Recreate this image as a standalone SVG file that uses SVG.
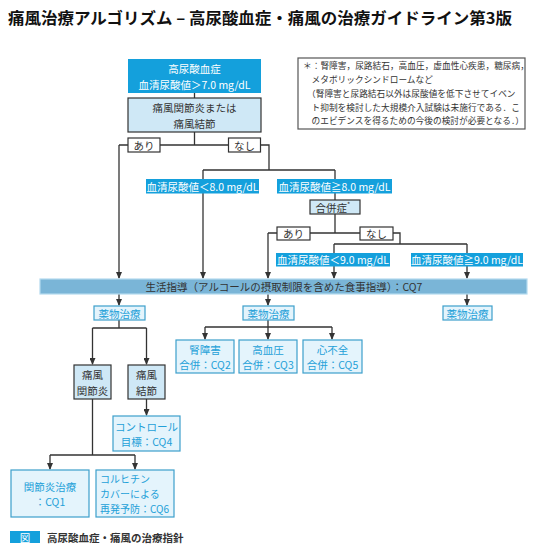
<svg xmlns="http://www.w3.org/2000/svg" width="544" height="556" viewBox="0 0 544 556">
<style>
text{font-family:"Noto Sans CJK JP","Noto Sans",sans-serif;}
.t{font-size:10.5px;text-anchor:middle;dominant-baseline:central;}
.dk{fill:#333;}
.wh{fill:#fff;}
.cy{fill:#23a0d8;}
.lb{fill:#cfe8f6;stroke:#333;stroke-width:1.2;}
.cb{fill:#e4f4fc;stroke:#3c9fcb;stroke-width:1.2;}
.yn{fill:#fff;stroke:#333;stroke-width:1.2;}
.c path{fill:none;stroke:#333;stroke-width:1.3;}
.fn{font-size:8.7px;fill:#333;}
</style>
<defs>
<marker id="ah" markerUnits="userSpaceOnUse" markerWidth="6" markerHeight="7" refX="3" refY="6" orient="0" viewBox="0 0 6 7">
<path d="M0,0 L6,0 L3,7 z" fill="#333"/>
</marker>
</defs>
<rect width="544" height="556" fill="#fff"/>
<text x="8" y="24" font-size="16" font-weight="bold" fill="#111" textLength="504" lengthAdjust="spacingAndGlyphs">痛風治療アルゴリズム – 高尿酸血症・痛風の治療ガイドライン第3版</text>

<g id="footnote">
<rect x="298" y="58" width="227" height="71" fill="#fff" stroke="#555" stroke-width="1.2"/>
<text class="fn" x="303" y="69">＊：腎障害，尿路結石，高血圧，虚血性心疾患，糖尿病，</text>
<text class="fn" x="311.5" y="83">メタボリックシンドロームなど</text>
<text class="fn" x="307" y="97">（腎障害と尿路結石以外は尿酸値を低下させてイベン</text>
<text class="fn" x="311.5" y="111">ト抑制を検討した大規模介入試験は未施行である．こ</text>
<text class="fn" x="311.5" y="124">のエビデンスを得るための今後の検討が必要となる．）</text>
</g>

<g class="c" id="connectors">
<path d="M194.5,93 V98"/>
<path d="M194.5,132 V145 M119,145 H269 V170 M203,170 H335 M203,170 V179 M335,170 V179"/>
<path d="M119,145 V278" marker-end="url(#ah)"/>
<path d="M203,193 V278" marker-end="url(#ah)"/>
<path d="M335,193 V200 M335,214 V233 M268,233 H400 V244 M334,244 H467 M334,244 V253 M467,244 V253"/>
<path d="M268,233 V278" marker-end="url(#ah)"/>
<path d="M334,266 V278" marker-end="url(#ah)"/>
<path d="M467,266 V278" marker-end="url(#ah)"/>
<path d="M119,294 V305" marker-end="url(#ah)"/>
<path d="M268,294 V305" marker-end="url(#ah)"/>
<path d="M467,294 V305" marker-end="url(#ah)"/>
<path d="M119,320 V328 M92.5,328 H146.5"/>
<path d="M92.5,328 V364" marker-end="url(#ah)"/>
<path d="M146.5,328 V364" marker-end="url(#ah)"/>
<path d="M268,320 V327 M205,327 H332"/>
<path d="M205,327 V339" marker-end="url(#ah)"/>
<path d="M268,327 V339" marker-end="url(#ah)"/>
<path d="M332,327 V339" marker-end="url(#ah)"/>
<path d="M146.5,399 V415" marker-end="url(#ah)"/>
<path d="M92.5,399 V455 M50,455 H135"/>
<path d="M50,455 V469" marker-end="url(#ah)"/>
<path d="M135,455 V469" marker-end="url(#ah)"/>
</g>

<g id="hyperuricemia">
<rect x="128" y="59" width="133" height="34" fill="#14a0dc"/>
<text class="t wh" x="194.5" y="68.5" font-size="10.5">高尿酸血症</text>
<text class="t wh" x="194.5" y="84" font-size="10.5">血清尿酸値＞7.0 mg/dL</text>
</g>
<g id="gout-q">
<rect class="lb" x="128" y="98" width="133" height="34"/>
<text class="t dk" x="194.5" y="107.5" font-size="10.5">痛風関節炎または</text>
<text class="t dk" x="194.5" y="123" font-size="10.5">痛風結節</text>
</g>
<g id="yes1">
<rect class="yn" x="128" y="138" width="32" height="14"/>
<text class="t dk" x="144" y="145" font-size="10">あり</text>
</g>
<g id="no1">
<rect class="yn" x="228.5" y="138" width="32" height="14"/>
<text class="t dk" x="244.5" y="145" font-size="10">なし</text>
</g>
<g id="lt8">
<rect x="146" y="179" width="113" height="14.5" fill="#14a0dc"/>
<text class="t wh" x="202.5" y="186.3">血清尿酸値＜8.0 mg/dL</text>
</g>
<g id="ge8">
<rect x="277" y="179" width="115" height="14.5" fill="#14a0dc"/>
<text class="t wh" x="334.5" y="186.3">血清尿酸値≧8.0 mg/dL</text>
</g>
<g id="complication">
<rect class="lb" x="310" y="200" width="50" height="14"/>
<text class="t dk" x="333" y="207" font-size="10">合併症<tspan font-size="7" dy="-3">*</tspan></text>
</g>
<g id="yes2">
<rect class="yn" x="277" y="227" width="33" height="13"/>
<text class="t dk" x="293.5" y="233.5" font-size="10">あり</text>
</g>
<g id="no2">
<rect class="yn" x="360" y="227" width="33" height="13"/>
<text class="t dk" x="376.5" y="233.5" font-size="10">なし</text>
</g>
<g id="lt9">
<rect x="276" y="253" width="114" height="13.5" fill="#14a0dc"/>
<text class="t wh" x="333" y="259.8">血清尿酸値＜9.0 mg/dL</text>
</g>
<g id="ge9">
<rect x="411" y="253" width="112" height="13.5" fill="#14a0dc"/>
<text class="t wh" x="467" y="259.8">血清尿酸値≧9.0 mg/dL</text>
</g>
<g id="lifestyle">
<rect x="40" y="279" width="487" height="15" fill="#7ab5d7" stroke="#b3daef" stroke-width="1.2"/>
<text class="t dk" x="284" y="286.5">生活指導（アルコールの摂取制限を含めた食事指導）：CQ7</text>
</g>
<g id="drug1">
<rect class="cb" x="94" y="306" width="51" height="14"/>
<text class="t cy" x="119.5" y="313">薬物治療</text>
</g>
<g id="drug2">
<rect class="cb" x="243" y="306" width="51" height="14"/>
<text class="t cy" x="268.5" y="313">薬物治療</text>
</g>
<g id="drug3">
<rect class="cb" x="443" y="306" width="49" height="14"/>
<text class="t cy" x="467.5" y="313">薬物治療</text>
</g>
<g id="renal">
<rect class="cb" x="176" y="340" width="58" height="33"/>
<text class="t cy" x="205" y="349">腎障害</text>
<text class="t cy" x="205" y="364.5">合併：CQ2</text>
</g>
<g id="hypertension">
<rect class="cb" x="239" y="340" width="58" height="33"/>
<text class="t cy" x="268" y="349">高血圧</text>
<text class="t cy" x="268" y="364.5">合併：CQ3</text>
</g>
<g id="heart">
<rect class="cb" x="303" y="340" width="59" height="33"/>
<text class="t cy" x="332.5" y="349">心不全</text>
<text class="t cy" x="332.5" y="364.5">合併：CQ5</text>
</g>
<g id="arthritis">
<rect class="lb" x="74" y="365" width="37" height="34"/>
<text class="t dk" x="92.5" y="374.5">痛風</text>
<text class="t dk" x="92.5" y="390">関節炎</text>
</g>
<g id="tophus">
<rect class="lb" x="128" y="365" width="37" height="34"/>
<text class="t dk" x="146.5" y="374.5">痛風</text>
<text class="t dk" x="146.5" y="390">結節</text>
</g>
<g id="control">
<rect class="cb" x="113" y="416" width="67" height="35"/>
<text class="t cy" x="146.5" y="426">コントロール</text>
<text class="t cy" x="146.5" y="441.5">目標：CQ4</text>
</g>
<g id="arthritis-tx">
<rect class="cb" x="11" y="470" width="78" height="47"/>
<text class="t cy" x="50" y="486">関節炎治療</text>
<text class="t cy" x="50" y="501.5">：CQ1</text>
</g>
<g id="colchicine">
<rect class="cb" x="96" y="470" width="78" height="47"/>
<text class="cy" x="100" y="478.5" font-size="10" dominant-baseline="central">コルヒチン</text>
<text class="cy" x="100" y="493.5" font-size="10" dominant-baseline="central">カバーによる</text>
<text class="cy" x="100" y="508.5" font-size="10" dominant-baseline="central">再発予防：CQ6</text>
</g>
<g id="caption">
<rect x="10" y="531" width="30" height="12" fill="#14a0dc"/>
<text class="t wh" x="25" y="537" font-size="9">図</text>
<text x="47" y="537" font-size="10.5" font-weight="bold" fill="#333" dominant-baseline="central">高尿酸血症・痛風の治療指針</text>
</g>
</svg>
